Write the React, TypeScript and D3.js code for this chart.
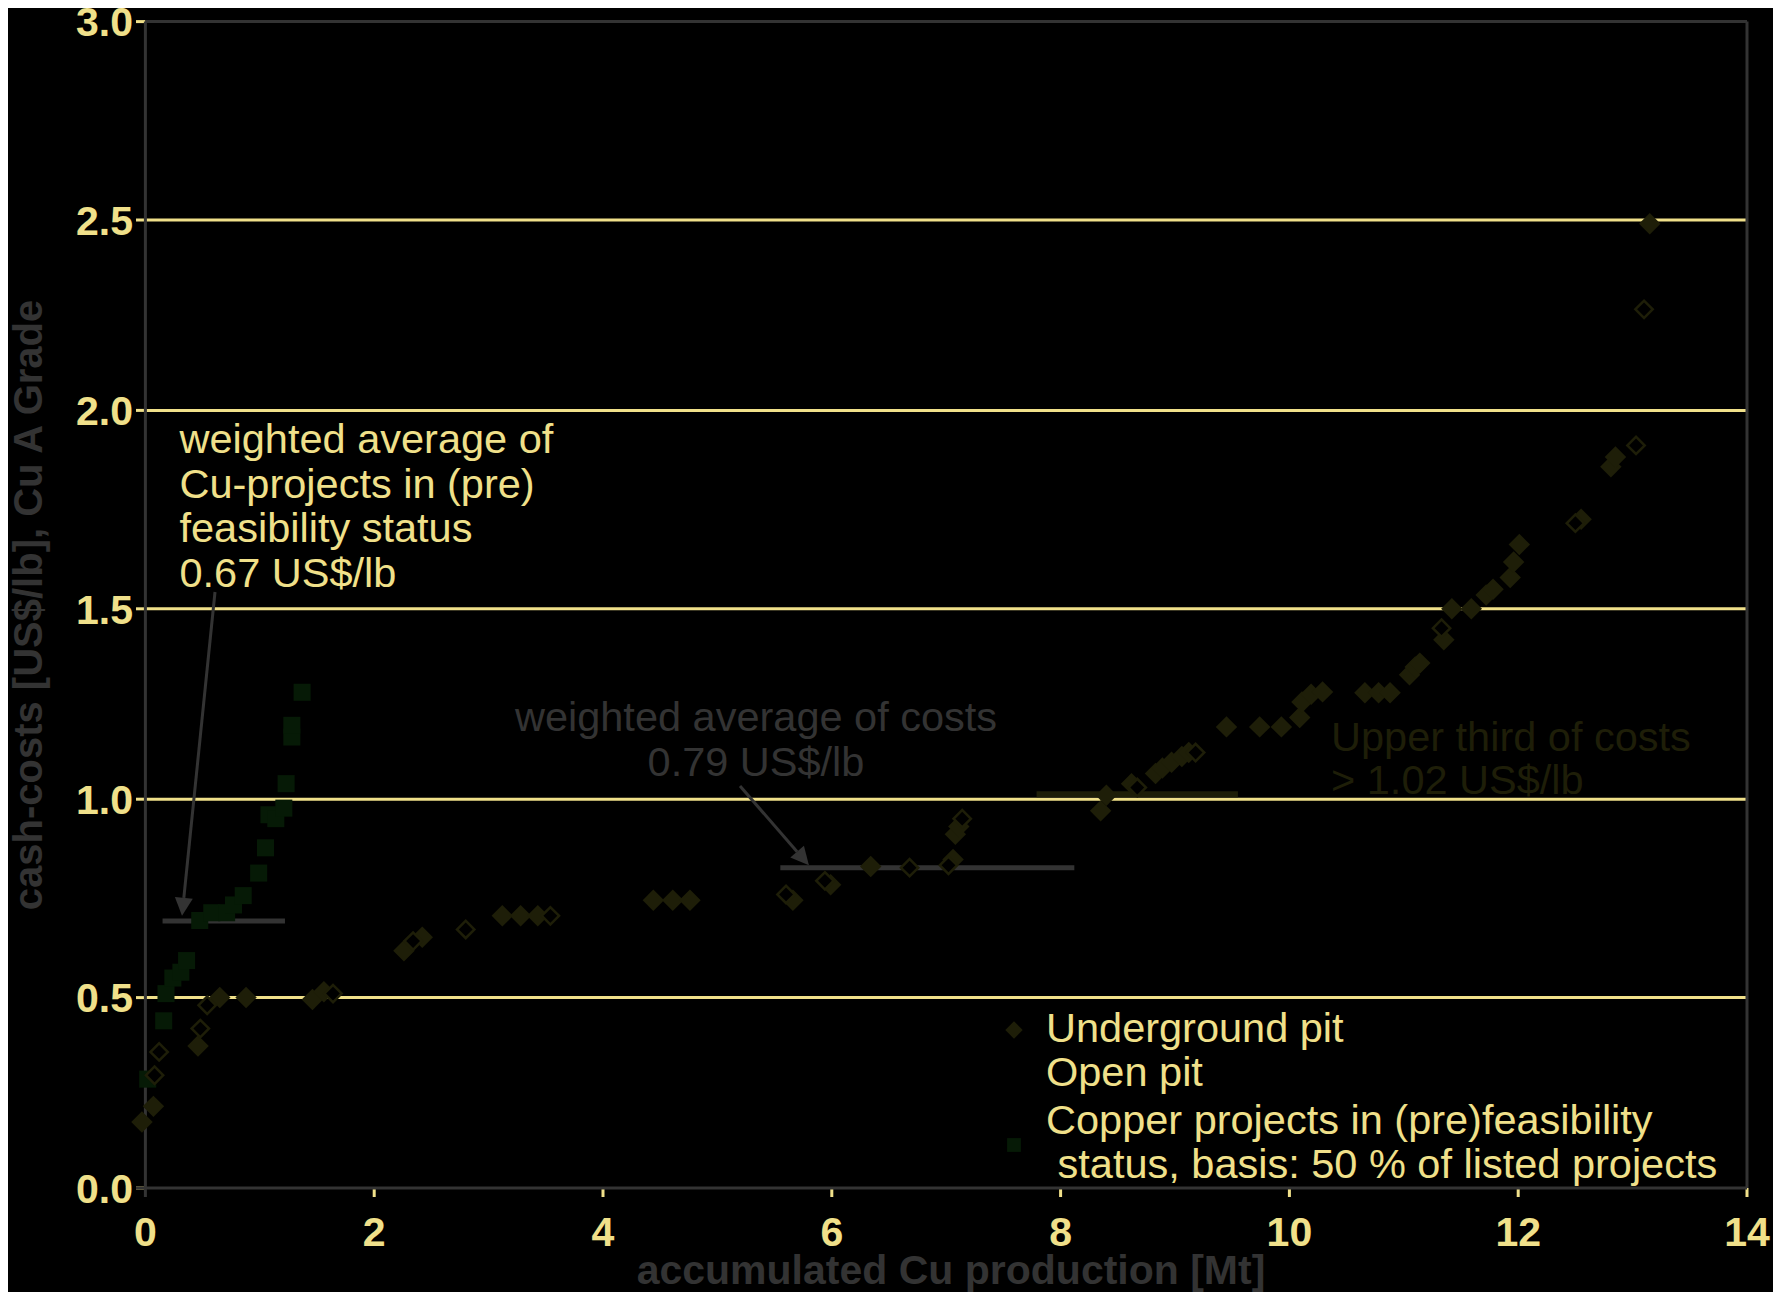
import React from "react";
import * as d3 from "d3";

const xTicks = [0, 2, 4, 6, 8, 10, 12, 14];
const yTicks = [0, 0.5, 1, 1.5, 2, 2.5, 3];
const yTickLabels = ["0.0", "0.5", "1.0", "1.5", "2.0", "2.5", "3.0"];

const undergroundX = [-0.03, 0.07, 0.46, 0.65, 0.88, 1.46, 1.56, 2.26, 2.42, 3.12, 3.28, 3.43, 4.44, 4.61, 4.76, 5.66, 5.99, 6.34, 7.06, 7.08, 7.11, 8.35, 8.4, 8.62, 8.83, 8.89, 8.97, 9.06, 9.12, 9.45, 9.74, 9.93, 10.09, 10.11, 10.19, 10.29, 10.66, 10.78, 10.88, 11.05, 11.1, 11.14, 11.35, 11.42, 11.59, 11.72, 11.78, 11.93, 11.96, 12.01, 12.55, 12.81, 12.85, 13.15];
const undergroundY = [0.17, 0.21, 0.365, 0.49, 0.49, 0.485, 0.505, 0.61, 0.645, 0.7, 0.7, 0.7, 0.74, 0.74, 0.74, 0.74, 0.78, 0.827, 0.845, 0.91, 0.93, 0.97, 1.01, 1.04, 1.066, 1.08, 1.095, 1.11, 1.12, 1.186, 1.186, 1.186, 1.21, 1.25, 1.27, 1.276, 1.274, 1.274, 1.274, 1.32, 1.34, 1.35, 1.41, 1.49, 1.49, 1.525, 1.54, 1.57, 1.61, 1.655, 1.72, 1.855, 1.88, 2.48];

const openPitX = [0.08, 0.12, 0.48, 0.54, 1.64, 2.34, 2.8, 3.54, 5.6, 5.94, 6.68, 7.02, 7.14, 8.67, 9.18, 11.33, 12.5, 13.03, 13.1];
const openPitY = [0.29, 0.35, 0.41, 0.47, 0.5, 0.635, 0.665, 0.7, 0.755, 0.79, 0.824, 0.83, 0.95, 1.03, 1.12, 1.44, 1.71, 1.91, 2.26];

const projectsX = [0.02, 0.16, 0.18, 0.24, 0.31, 0.36, 0.475, 0.58, 0.71, 0.77, 0.855, 0.99, 1.05, 1.08, 1.14, 1.21, 1.23, 1.28, 1.28, 1.37];
const projectsY = [0.28, 0.43, 0.5, 0.54, 0.555, 0.585, 0.688, 0.708, 0.708, 0.728, 0.752, 0.81, 0.875, 0.96, 0.95, 0.977, 1.04, 1.16, 1.19, 1.275];

const legendLabels = ["Underground pit", "Open pit", "Copper projects in (pre)feasibility", " status, basis: 50 % of listed projects"];
const note1Lines = ["weighted average of", "Cu-projects in (pre)", "feasibility status", "0.67 US$/lb"];
const note2Lines = ["weighted average of costs", "0.79 US$/lb"];
const note3Lines = ["Upper third of costs", "> 1.02 US$/lb"];

const YELLOW = "#f0e08a";
const GRAY = "#333333";
const OLIVE = "#1e1e08";
const GREEN = "#061a06";
const FONT = "'Liberation Sans', Arial, Helvetica, sans-serif";

export default function App() {
  const left = 145.4, right = 1747, top = 21.6, bottom = 1188;
  const x = d3.scaleLinear().domain([0, 14]).range([left, right]);
  const y = d3.scaleLinear().domain([0, 3]).range([bottom, top]);
  // the reference draws half-unit gridlines a few pixels lower than a strict linear scale
  const gy = (t: number) => y(t) + (Math.round(t * 2) % 2 === 1 ? 4 : 0);
  const diamond = d3.symbol().type(d3.symbolSquare).size(230)() as string;
  const diamondSmall = d3.symbol().type(d3.symbolSquare).size(150)() as string;
  const square = d3.symbol().type(d3.symbolSquare).size(290)() as string;

  const under = undergroundX.map((v, i) => ({ x: v, y: undergroundY[i] }));
  const open = openPitX.map((v, i) => ({ x: v, y: openPitY[i] }));
  const proj = projectsX.map((v, i) => ({ x: v, y: projectsY[i] }));

  const arrow = (x1: number, y1: number, x2: number, y2: number, key: string) => {
    const ang = Math.atan2(y2 - y1, x2 - x1);
    const L = 18, W = 9;
    const bx = x2 - L * Math.cos(ang), by = y2 - L * Math.sin(ang);
    const px = -Math.sin(ang) * W, py = Math.cos(ang) * W;
    return (
      <g key={key}>
        <line x1={x1} y1={y1} x2={bx} y2={by} stroke={GRAY} strokeWidth={3} />
        <path d={`M${x2},${y2}L${bx + px},${by + py}L${bx - px},${by - py}Z`} fill={GRAY} />
      </g>
    );
  };

  return (
    <>
      <style>{"html,body{overflow:hidden}"}</style>
      <svg width={1773} height={1284} style={{ display: "block" }}>
        <g transform="translate(-8,-8)">
          <rect x={8} y={8} width={1800} height={1300} fill="#000" />
          {/* gridlines */}
          {yTicks.filter((t) => t > 0 && t < 3).map((t) => (
            <line key={"g" + t} x1={left} x2={right} y1={gy(t)} y2={gy(t)} stroke={YELLOW} strokeWidth={3} />
          ))}
          {/* y ticks */}
          {yTicks.map((t) => (
            <line key={"yt" + t} x1={136} x2={left} y1={gy(t)} y2={gy(t)} stroke={YELLOW} strokeWidth={3} />
          ))}
          {yTicks.map((t, i) => (
            <text key={"yl" + t} x={133} y={gy(t)} dy="0.36em" textAnchor="end" fill={YELLOW} fontFamily={FONT} fontWeight="bold" fontSize={41}>
              {yTickLabels[i]}
            </text>
          ))}
          {/* x ticks */}
          {xTicks.filter((t) => t > 0).map((t) => (
            <line key={"xt" + t} x1={x(t)} x2={x(t)} y1={bottom} y2={bottom + 9} stroke={YELLOW} strokeWidth={3} />
          ))}
          {xTicks.map((t) => (
            <text key={"xl" + t} x={x(t)} y={1246} textAnchor="middle" fill={YELLOW} fontFamily={FONT} fontWeight="bold" fontSize={41}>
              {t}
            </text>
          ))}
          {/* frame */}
          <line x1={left} x2={right} y1={top} y2={top} stroke={GRAY} strokeWidth={3} />
          <line x1={right} x2={right} y1={top} y2={bottom} stroke={GRAY} strokeWidth={3} />
          <line x1={left} x2={left} y1={top} y2={bottom + 9} stroke={GRAY} strokeWidth={3} />
          <line x1={136} x2={right} y1={bottom} y2={bottom} stroke={GRAY} strokeWidth={3} />

          {/* annotation lines */}
          <line x1={x(0.15)} x2={x(1.22)} y1={y(0.687)} y2={y(0.687)} stroke={GRAY} strokeWidth={5} />
          <line x1={x(5.55)} x2={x(8.12)} y1={y(0.824)} y2={y(0.824)} stroke={GRAY} strokeWidth={5} />
          <line x1={x(7.79)} x2={x(9.55)} y1={y(1.013)} y2={y(1.013)} stroke={OLIVE} strokeWidth={6} />
          {arrow(215, 592, x(0.32), y(0.70), "a1")}
          {arrow(740, 786, x(5.8), y(0.83), "a2")}

          {/* projects squares */}
          {proj.map((d, i) => (
            <path key={"p" + i} d={square} transform={`translate(${x(d.x)},${y(d.y)})`} fill={GREEN} />
          ))}
          {/* underground */}
          {under.map((d, i) => (
            <path key={"u" + i} d={diamond} transform={`translate(${x(d.x)},${y(d.y)}) rotate(45)`} fill={OLIVE} />
          ))}
          {/* open pit */}
          {open.map((d, i) => (
            <path key={"o" + i} d={diamondSmall} transform={`translate(${x(d.x)},${y(d.y)}) rotate(45)`} fill="#000" stroke={OLIVE} strokeWidth={2.5} />
          ))}

          {/* annotations */}
          {note1Lines.map((s, i) => (
            <text key={"n1" + i} x={179.5} y={453 + i * 44.7} fill={YELLOW} fontFamily={FONT} fontSize={41.5}>{s}</text>
          ))}
          {note2Lines.map((s, i) => (
            <text key={"n2" + i} x={756} y={731 + i * 44.5} textAnchor="middle" fill={GRAY} fontFamily={FONT} fontSize={41.5}>{s}</text>
          ))}
          {note3Lines.map((s, i) => (
            <text key={"n3" + i} x={1331} y={751 + i * 43} fill={OLIVE} fontFamily={FONT} fontSize={41.5}>{s}</text>
          ))}

          {/* legend */}
          <path d={d3.symbol().type(d3.symbolSquare).size(150)() as string} transform="translate(1014,1030) rotate(45)" fill={OLIVE} />
          <path d={d3.symbol().type(d3.symbolSquare).size(190)() as string} transform="translate(1014,1145)" fill={GREEN} />
          {legendLabels.map((s, i) => (
            <text key={"lg" + i} x={1046} y={[1041.5, 1086, 1133.5, 1178][i]} fill={YELLOW} fontFamily={FONT} fontSize={41.5} style={{ whiteSpace: "pre" }}>{s}</text>
          ))}

          {/* axis titles */}
          <text x={951} y={1284} textAnchor="middle" fill={GRAY} fontFamily={FONT} fontWeight="bold" fontSize={41}>
            accumulated Cu production [Mt]
          </text>
          <text transform="translate(42,605) rotate(-90)" textAnchor="middle" fill={GRAY} fontFamily={FONT} fontWeight="bold" fontSize={40}>
            cash-costs [US$/lb], Cu A Grade
          </text>
        </g>
      </svg>
    </>
  );
}
